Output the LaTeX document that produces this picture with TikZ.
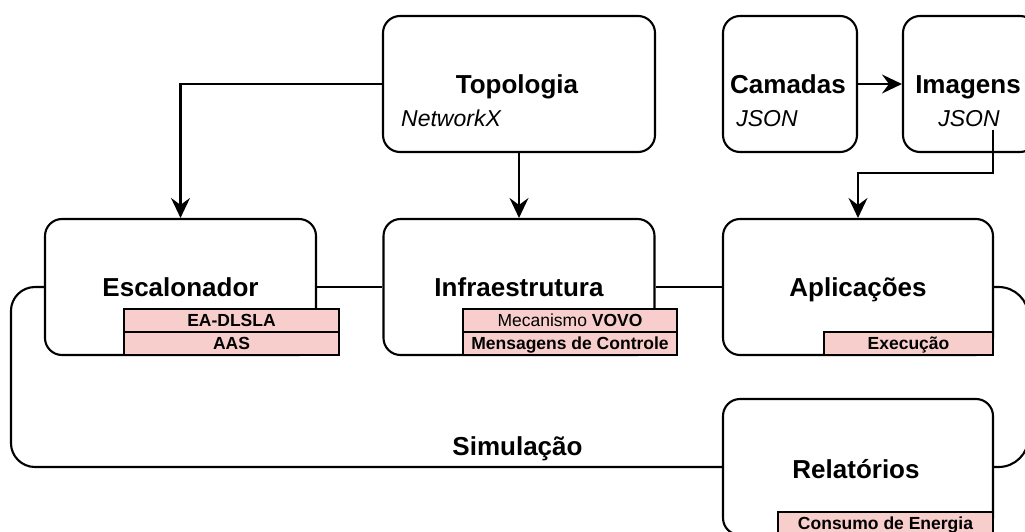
\documentclass[tikz,border=0pt]{standalone}
\usepackage{fontspec}
\setmainfont{Liberation Sans}
\usetikzlibrary{arrows.meta,calc}
\definecolor{pinkfill}{HTML}{F8CECC}

\begin{document}
\begin{tikzpicture}[x=1pt,y=-1pt,line width=2.1pt,
  box/.style={draw, rounded corners=17pt, minimum height=136pt, inner sep=0pt,
    text height=18.6pt, text depth=0pt,
    font=\fontsize{26}{30}\selectfont\bfseries},
  title/.style={inner sep=0pt, text height=18.6pt, text depth=0pt,
    font=\fontsize{26}{30}\selectfont\bfseries},
  sub/.style={inner sep=0pt, text height=16.5pt, text depth=0pt,
    font=\fontsize{23}{27}\selectfont\itshape},
  tag/.style={draw, fill=pinkfill, minimum height=23pt, inner sep=0pt,
    text height=12.5pt, text depth=0pt,
    font=\fontsize{17.5}{20}\selectfont},
  arr/.style={-{Stealth[length=20pt,width=19pt,inset=7pt]}}]

\useasboundingbox (0,0) rectangle (1025,532);
\clip (0,0) rectangle (1025,532);

% top row: sources
\node[box, minimum width=272pt] (topo) at (519,84) {};
\node[title] (topoT) at (517,84) {Topologia};
\node[sub]   (topoS) at (451,118.5) {NetworkX};

\node[box, minimum width=134pt] (cam) at (790,84) {};
\node[title] (camT) at (788,84) {Camadas};
\node[sub]   (camS) at (767,118.5) {JSON};

\node[box, minimum width=134pt] (img) at (970,84) {};
\node[title] (imgT) at (968,84) {Imagens};
\node[sub]   (imgS) at (969,118.5) {JSON};

% middle row: simulator components
\node[box, minimum width=271pt] (esc) at (180.5,287) {Escalonador};
\node[box, minimum width=271pt] (inf) at (519,287) {Infraestrutura};
\node[box, minimum width=270pt] (apl) at (858,287) {Aplicações};

% bottom: reports
\node[box, minimum width=270pt] (rel) at (858,467) {};
\node[title] (relT) at (856,469) {Relatórios};

% tags on the components
\node[tag, minimum width=215pt] (escA) at (231.5,320.5) {\bfseries EA-DLSLA};
\node[tag, minimum width=215pt] (escB) at (231.5,343.5) {\bfseries AAS};
\node[tag, minimum width=214pt] (infA) at (570,320.5) {Mecanismo \textbf{VOVO}};
\node[tag, minimum width=214pt] (infB) at (570,343.5) {\bfseries Mensagens de Controle};
\node[tag, minimum width=169pt] (aplA) at (908.5,343.5) {\bfseries Execução};
\node[tag, minimum width=215pt] (relA) at (885.5,523.5) {\bfseries Consumo de Energia};

% data flow
\draw[arr] (topo.west) -| (esc.north);
\draw[arr] (topo.south) -- (inf.north);
\draw[arr] (cam.east) -- (img.west);
\coordinate (imgout) at (993,130);
\draw[arr] (imgout) |- ($(apl.north)+(0,-45)$) -- (apl.north);

% links between components
\draw (esc.east) -- (inf.west);
\draw (inf.east) -- (apl.west);

% simulation loop
\draw[rounded corners=24pt] (esc.west) -- ++(-33,0) -- ++(0,180) -- (rel.west);
\draw[rounded corners=30pt] (apl.east) -- ++(34.5,0) -- ++(0,180) -- (rel.east);
\node[title] (sim) at (517.5,446) {Simulação};

\end{tikzpicture}
\end{document}
